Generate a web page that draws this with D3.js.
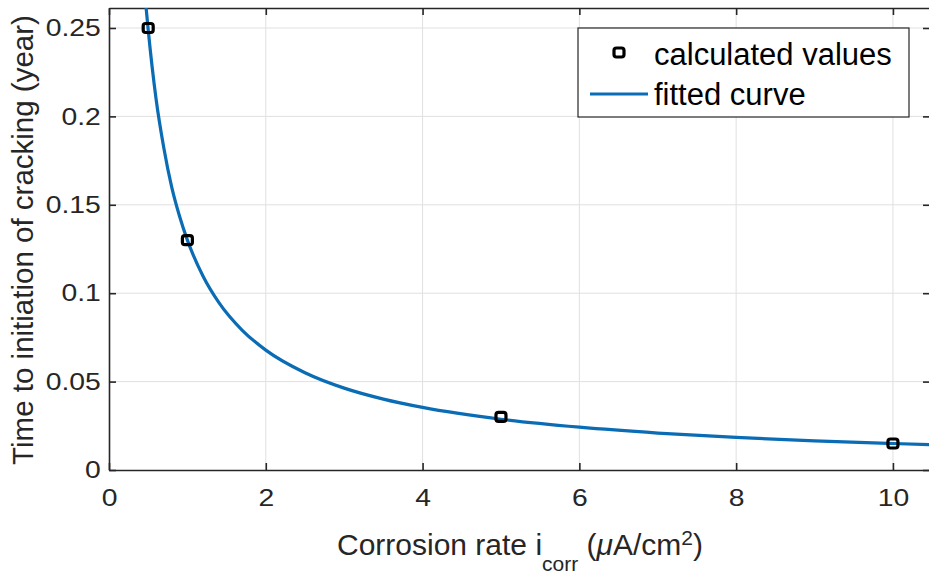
<!doctype html>
<html>
<head>
<style>
  body { margin: 0; background: #fff; font-family: "Liberation Sans", Arial, sans-serif; }
  .grid line { stroke: #e0e0e0; stroke-width: 1; }
</style>
<script src="https://d3js.org/d3.v7.min.js"></script>
</head>
<body>
<script>
// calculated points
var rate = [0.5, 1, 5, 10];
var time = [0.25, 0.13, 0.03, 0.015];

// fitted curve
var fitX = [0.47, 0.5, 0.6, 0.7, 0.8, 0.9, 1, 1.2, 1.4, 1.7, 2, 2.5, 3, 3.5, 4, 5, 6, 7, 8, 9, 10, 10.5];
var fitY = [0.263, 0.249, 0.210, 0.182, 0.160, 0.1435, 0.130, 0.1096, 0.0948, 0.079, 0.0678, 0.055, 0.0463, 0.0401, 0.0354, 0.0287, 0.0242, 0.0209, 0.0184, 0.0165, 0.015, 0.0143];

var xTicks = [0, 2, 4, 6, 8, 10];
var yTicks = [0, 0.05, 0.1, 0.15, 0.2, 0.25];

var W = 929, H = 578;
var margin = {top: 8, right: 0, bottom: 108, left: 109};
var width = 929 - margin.left;   // right border sits just past the window
var height = H - margin.top - margin.bottom;
var stretch = 1.18;              // tick labels look widened in the original

var x = d3.scaleLinear().domain([0, 10.46]).range([0, width]);
var y = d3.scaleLinear().domain([0, 0.2613]).range([height, 0]);

var svg = d3.select('body').append('svg')
  .attr('width', W)
  .attr('height', H);

var g = svg.append('g')
  .attr('transform', `translate(${margin.left},${margin.top})`);

g.append('clipPath').attr('id', 'clip')
  .append('rect').attr('width', width).attr('height', height);

// grid
var grid = g.append('g').attr('class', 'grid');
grid.selectAll('.vx').data(xTicks.slice(1)).enter().append('line')
  .attr('x1', d => x(d)).attr('x2', d => x(d))
  .attr('y1', 0).attr('y2', height);
grid.selectAll('.hy').data(yTicks.slice(1)).enter().append('line')
  .attr('y1', d => y(d)).attr('y2', d => y(d))
  .attr('x1', 0).attr('x2', width);

// axes (ticks inward, box on)
var ax = g.append('g')
  .attr('transform', `translate(0,${height})`)
  .call(d3.axisBottom(x).tickValues(xTicks).tickSizeInner(-7).tickSizeOuter(0).tickPadding(19));
var ay = g.append('g')
  .call(d3.axisLeft(y).tickValues(yTicks).tickFormat(d3.format('')).tickSizeInner(-7).tickSizeOuter(0).tickPadding(7));
var axTop = g.append('g')
  .call(d3.axisTop(x).tickValues(xTicks).tickSizeInner(-7).tickSizeOuter(0).tickFormat(''));
var ayRight = g.append('g')
  .attr('transform', `translate(${width + 1},0)`)
  .call(d3.axisRight(y).tickValues(yTicks).tickSizeInner(-7).tickSizeOuter(0).tickFormat(''));

[ax, ay, axTop, ayRight].forEach(function(a) {
  a.selectAll('path').attr('stroke', '#262626').attr('stroke-width', 1.6);
  a.selectAll('line').attr('stroke', '#262626').attr('stroke-width', 1.6);
  a.selectAll('text').style('font-size', '24px')
    .style('font-family', '"Liberation Sans", Arial, sans-serif').attr('fill', '#262626')
    .attr('transform', `scale(${stretch},1)`);
});

// fitted curve
var fit = fitX.map((d, i) => [d, fitY[i]]);
g.append('path')
  .datum(fit)
  .attr('clip-path', 'url(#clip)')
  .attr('fill', 'none')
  .attr('stroke', '#0a6cb5')
  .attr('stroke-width', 3.2)
  .attr('d', d3.line().x(d => x(d[0])).y(d => y(d[1])).curve(d3.curveMonotoneX));

// calculated points
g.selectAll('.pt').data(rate).enter().append('rect')
  .attr('x', d => x(d) - 5)
  .attr('y', (d, i) => y(time[i]) - 4.5)
  .attr('width', 10).attr('height', 9)
  .attr('rx', 2.5)
  .attr('fill', 'none')
  .attr('stroke', '#000')
  .attr('stroke-width', 3.2);

// legend
var lg = svg.append('g');
lg.append('rect')
  .attr('x', 578).attr('y', 28).attr('width', 331).attr('height', 89)
  .attr('fill', '#fff').attr('stroke', '#262626').attr('stroke-width', 1.2);
lg.append('rect')
  .attr('x', 614).attr('y', 48).attr('width', 10).attr('height', 9).attr('rx', 2.5)
  .attr('fill', 'none').attr('stroke', '#000').attr('stroke-width', 3.2);
lg.append('line')
  .attr('x1', 590).attr('x2', 648).attr('y1', 94).attr('y2', 94)
  .attr('stroke', '#0a6cb5').attr('stroke-width', 3.2);
lg.append('text').attr('x', 654).attr('y', 65).text('calculated values')
  .style('font-size', '31px').attr('fill', '#000');
lg.append('text').attr('x', 654).attr('y', 105).text('fitted curve')
  .style('font-size', '31px').attr('fill', '#000');

// x label
var xl = svg.append('text')
  .attr('x', 520)
  .attr('y', 555)
  .attr('text-anchor', 'middle')
  .style('font-size', '30px')
  .attr('fill', '#262626');
xl.append('tspan').text('Corrosion rate i');
xl.append('tspan').attr('dy', 16).style('font-size', '21px').text('corr');
xl.append('tspan').attr('dy', -16).text(' (');
xl.append('tspan').style('font-style', 'italic').text('\u03bc');
xl.append('tspan').text('A/cm');
xl.append('tspan').attr('dy', -10).style('font-size', '21px').text('2');
xl.append('tspan').attr('dy', 10).text(')');

// y label
svg.append('text')
  .attr('transform', `translate(33,${margin.top + height / 2 + 1}) rotate(-90)`)
  .attr('text-anchor', 'middle')
  .style('font-size', '29.5px')
  .attr('fill', '#262626')
  .text('Time to initiation of cracking (year)');
</script>
</body>
</html>
